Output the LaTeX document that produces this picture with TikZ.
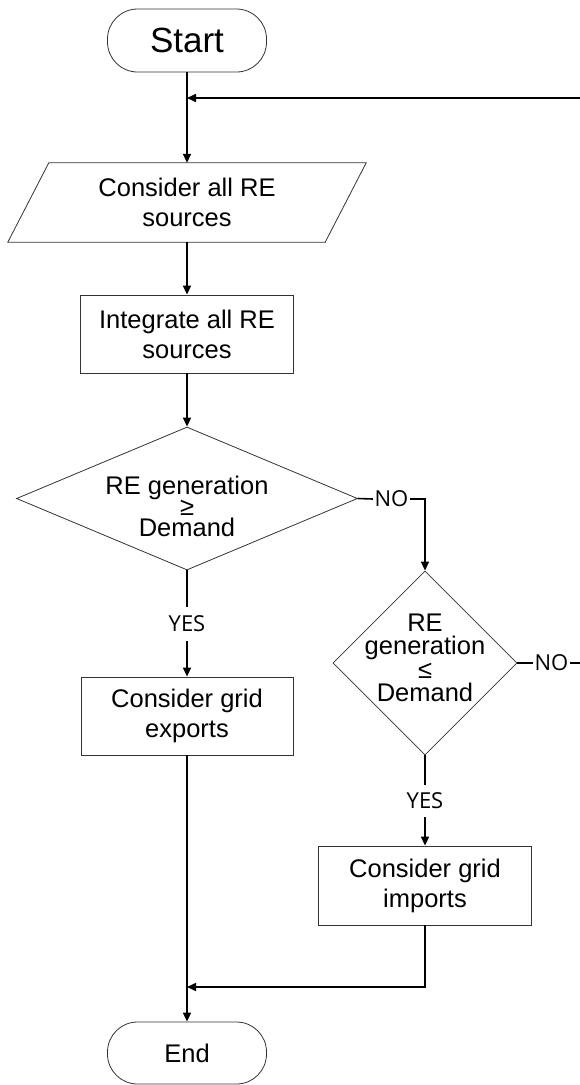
\documentclass[tikz,border=0pt]{standalone}
\usepackage{fontspec}
\setmainfont{Liberation Sans}
\newfontfamily\lblfont{Open Sans}
\usetikzlibrary{shapes.geometric,arrows.meta}
\newcommand\tightlines{\lineskiplimit=-50pt\relax}
\begin{document}
\begin{tikzpicture}[x=1pt,y=-1pt,
  border/.style={draw=black!80, line width=0.8pt},
  bigtext/.style={font=\fontsize{25.5}{30}\selectfont},
  term/.style={border, rounded corners=30pt, minimum width=159pt, minimum height=63pt, inner sep=0pt, bigtext},
  proc/.style={border, minimum width=213pt, minimum height=78pt, inner sep=0pt, align=center, bigtext},
  dia/.style={border, diamond, inner sep=0pt},
  diatext/.style={align=center, inner sep=0pt},
  lbl/.style={font=\lblfont\fontsize{22}{26}\selectfont, inner xsep=1.5pt, inner ysep=0pt},
  conn/.style={line width=1.6pt},
  arr/.style={conn, -{Triangle[length=9pt,width=8pt]}}
]
\useasboundingbox (0,0) rectangle (580,1085);

% flowchart boxes
\node[term, font=\fontsize{35}{40}\selectfont] (start) at (187,40.5) {Start};
\node[inner sep=0pt, minimum width=317pt, minimum height=79pt, align=center, bigtext] (in) at (187,202.5) {Consider all RE\\sources};
\draw[border] ([xshift=-20.5pt]in.south west) -- ([xshift=-20.5pt]in.south east)
  -- ([xshift=20.5pt]in.north east) -- ([xshift=20.5pt]in.north west) -- cycle;
\node[proc] (int) at (187,334) {Integrate all RE\\sources};

\node[dia, minimum width=341pt, minimum height=143pt] (d1) at (187,498.5) {};
\node[diatext, font=\fontsize{25.5}{21}\selectfont\tightlines] (d1t) at (187,506.4) {RE generation\\≥\\Demand};

\node[dia, minimum width=184pt, minimum height=184pt] (d2) at (425,663) {};
\node[diatext, font=\fontsize{25.5}{23.5}\selectfont\tightlines] (d2t) at (425,658) {RE\\generation\\≤\\Demand};

\node[proc, minimum width=212pt] (exp) at (187,716) {Consider grid\\exports};
\node[proc, minimum height=79pt] (imp) at (425,885.5) {Consider grid\\imports};
\node[term, minimum height=62pt] (end) at (187,1053) {End};

% branch labels
\node[lbl] (no1) at (391.5,499) {NO};
\node[lbl] (no2) at (551.5,663) {NO};
\node[lbl, minimum height=34pt] (yes1) at (187,624) {YES};
\node[lbl, minimum height=32pt] (yes2) at (425,801) {YES};

% free ends of the loop-back line
\coordinate (loop) at (580,98);
\coordinate (out2) at (580,663);
\coordinate (join) at (187,987);

% connectors
\draw[arr] (start.south) -- (in.north);
\draw[arr] (loop) -- (loop -| start.south);
\draw[arr] (in.south) -- (int.north);
\draw[arr] (int.south) -- (d1.north);
\draw[conn] (d1.south) -- (yes1.north);
\draw[arr] (yes1.south) -- (exp.north);
\draw[conn] (d1.east) -- (no1.west);
\draw[arr] (no1.east) -| (d2.north);
\draw[conn] (d2.east) -- (no2.west);
\draw[conn] (no2.east) -- (out2);
\draw[conn] (d2.south) -- (yes2.north);
\draw[arr] (yes2.south) -- (imp.north);
\draw[arr] (exp.south) -- (end.north);
\draw[arr] (imp.south) |- (join);
\end{tikzpicture}
\end{document}
